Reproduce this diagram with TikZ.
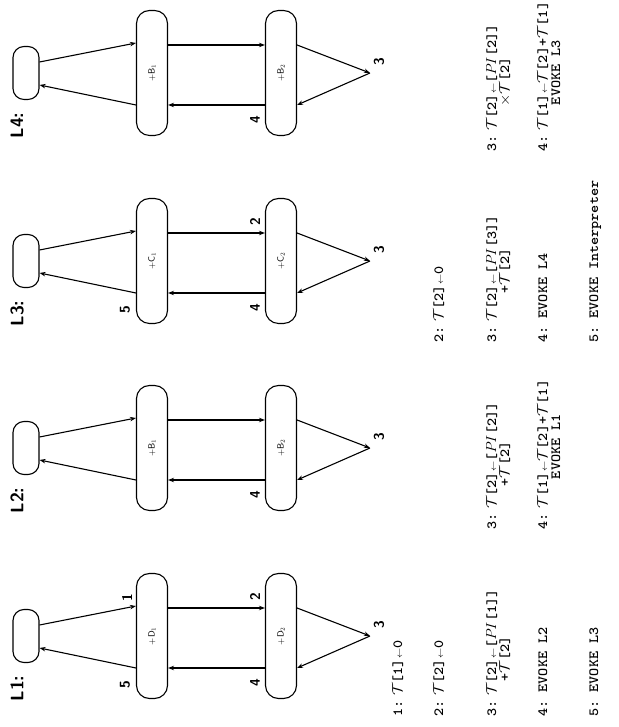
\documentclass[tikz,border=0pt]{standalone}
\usepackage{amsmath}
\usepackage{amssymb}
\usepackage{graphicx}
\usetikzlibrary{arrows.meta}

\newcommand{\Tv}{\ensuremath{\mathcal{T}}}
\newcommand{\PIv}{\ensuremath{\mathit{PI}}}
\newcommand{\getsarrow}{{\fontsize{9}{9}\selectfont$\leftarrow$}}
\newcommand{\stmt}[1]{\scalebox{1.1}[1]{#1}}

\tikzset{
  bigbox/.style={draw, rounded corners=13pt, minimum width=125pt, minimum height=31pt,
    inner sep=0pt, font=\sffamily\fontsize{9}{9}\selectfont},
  smallbox/.style={draw, rounded corners=11pt, minimum width=53pt, minimum height=26pt, inner sep=0pt},
  num/.style={font=\sffamily\bfseries\fontsize{14}{14}\selectfont, inner sep=0pt},
  lbl/.style={font=\sffamily\bfseries\fontsize{18}{18}\selectfont, inner sep=0pt},
  prog/.style={font=\ttfamily\bfseries\frenchspacing\fontsize{14}{14}\selectfont, inner sep=0pt},
}

\begin{document}
\begin{tikzpicture}[x=1pt, y=1pt, line width=1.1pt, >={Stealth[length=6pt,width=4.5pt]}]
\useasboundingbox (0,0) rectangle (618,727);
\begin{scope}[rotate=90, transform shape, y=-1pt]
  % the four programs
  \foreach \i/\cx/\nm in {1/91/D, 2/279/B, 3/466/C, 4/654/B} {
    \node[smallbox] (s\i) at (\cx,26) {};
    \node[bigbox] (t\i) at (\cx,152) {+\nm$_1$};
    \node[bigbox] (b\i) at (\cx,281) {+\nm$_2$};
    \coordinate (p\i) at (\cx,370);
    \node[lbl, anchor=north east] (l\i) at ({\cx-39},10) {L\i:};
    \draw[->] ([xshift=11pt]s\i.south) -- ([xshift=30pt]t\i.north);
    \draw[->] ([xshift=-32pt]t\i.north) -- ([xshift=-12pt]s\i.south);
    \draw[->] ([xshift=28pt]t\i.south) -- ([xshift=28pt]b\i.north);
    \draw[->] ([xshift=-32pt]b\i.north) -- ([xshift=-32pt]t\i.south);
    \draw[->] ([xshift=28pt]b\i.south) -- (p\i);
    \draw[->] (p\i) -- ([xshift=-32pt]b\i.south);
    \node[num] (three\i) at ({\cx+11},379) {3};
    \node[num] (four\i) at ({\cx-47},255) {4};
  }
  \node[num] (one1) at (129,127) {1};
  \node[num] (five1) at (42,125) {5};
  \node[num] (two1) at (130,255) {2};
  \node[num] (five3) at (417,125) {5};
  \node[num] (two3) at (505,255) {2};

  % statements under L1
  \node[prog, anchor=base west] (a1) at (10,402) {\stmt{1:\kern4pt\Tv[1]\getsarrow0}};
  \node[prog, anchor=base west] (a2) at (10,443) {\stmt{2:\kern4pt\Tv[2]\getsarrow0}};
  \node[prog, anchor=base west] (a3) at (10,496) {\stmt{3:\kern4pt\Tv[2]\getsarrow[\PIv[1]]}};
  \node[prog, anchor=base] (a3c) at ([xshift=-6pt,yshift=-13pt]a3.base) {\stmt{+\Tv[2]}};
  \node[prog, anchor=base west] (a4) at (10,547) {\stmt{4: EVOKE L2}};
  \node[prog, anchor=base west] (a5) at (10,598) {\stmt{5: EVOKE L3}};

  % statements under L2
  \node[prog, anchor=base west] (c3) at (197,496) {\stmt{3:\kern4pt\Tv[2]\getsarrow[\PIv[2]]}};
  \node[prog, anchor=base] (c3c) at ([xshift=2pt,yshift=-13pt]c3.base) {\stmt{+\Tv[2]}};
  \node[prog, anchor=base west] (c4) at (197,547) {\stmt{4:\kern4pt\Tv[1]\getsarrow\Tv[2]+\Tv[1]}};
  \node[prog, anchor=base] (c4c) at ([xshift=8pt,yshift=-13pt]c4.base) {\stmt{EVOKE L1}};

  % statements under L3
  \node[prog, anchor=base west] (e2) at (384,443) {\stmt{2:\kern4pt\Tv[2]\getsarrow0}};
  \node[prog, anchor=base west] (e3) at (384,496) {\stmt{3:\kern4pt\Tv[2]\getsarrow[\PIv[3]]}};
  \node[prog, anchor=base] (e3c) at ([xshift=8pt,yshift=-13pt]e3.base) {\stmt{+\Tv[2]}};
  \node[prog, anchor=base west] (e4) at (384,547) {\stmt{4: EVOKE L4}};
  \node[prog, anchor=base west] (e5) at (384,598) {\stmt{5: EVOKE Interpreter}};

  % statements under L4
  \node[prog, anchor=base west] (g3) at (575,496) {\stmt{3:\kern4pt\Tv[2]\getsarrow[\PIv[2]]}};
  \node[prog, anchor=base] (g3c) at ([xshift=6pt,yshift=-13pt]g3.base) {\stmt{$\times$\Tv[2]}};
  \node[prog, anchor=base west] (g4) at (575,547) {\stmt{4:\kern4pt\Tv[1]\getsarrow\Tv[2]+\Tv[1]}};
  \node[prog, anchor=base] (g4c) at ([xshift=4pt,yshift=-13pt]g4.base) {\stmt{EVOKE L3}};
\end{scope}
\end{tikzpicture}
\end{document}
